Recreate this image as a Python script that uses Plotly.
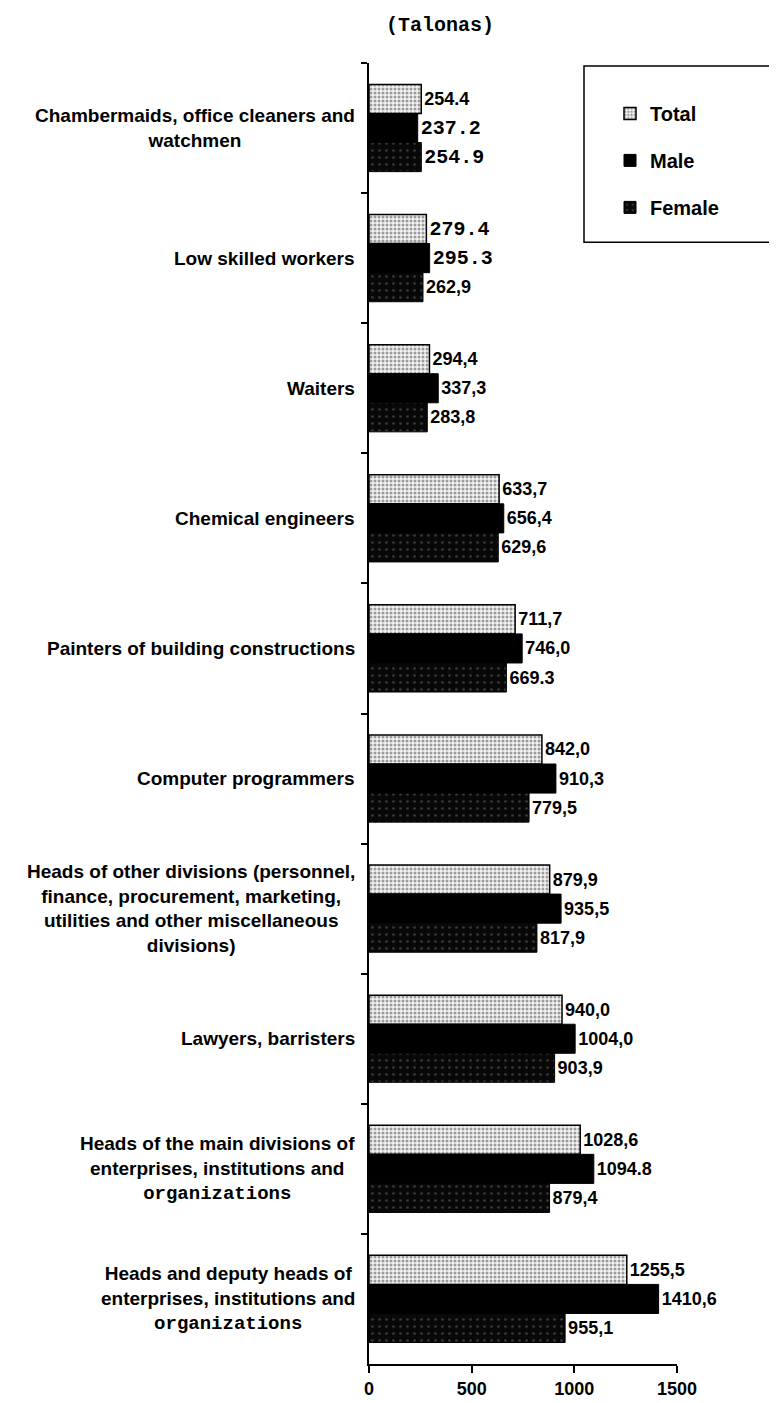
import plotly.graph_objects as go

categories = [
    "Chambermaids, office cleaners and watchmen",
    "Low skilled workers",
    "Waiters",
    "Chemical engineers",
    "Painters of building constructions",
    "Computer programmers",
    "Heads of other divisions",
    "Lawyers, barristers",
    "Heads of the main divisions",
    "Heads and deputy heads",
]
MONO = "<span style='font-family:Liberation Mono'>organizations</span>"
category_labels = [
    "Chambermaids, office cleaners and<br>watchmen",
    "Low skilled workers",
    "Waiters",
    "Chemical engineers",
    "Painters of building constructions",
    "Computer programmers",
    "Heads of other divisions (personnel,<br>finance, procurement, marketing,<br>utilities and other miscellaneous<br>divisions)",
    "Lawyers, barristers",
    "Heads of the main divisions of<br>enterprises, institutions and<br>" + MONO,
    "Heads and deputy heads of<br>enterprises, institutions and<br>" + MONO,
]

total = [254.4, 279.4, 294.4, 633.7, 711.7, 842.0, 879.9, 940.0, 1028.6, 1255.5]
male = [237.2, 295.3, 337.3, 656.4, 746.0, 910.3, 935.5, 1004.0, 1094.8, 1410.6]
female = [254.9, 262.9, 283.8, 629.6, 669.3, 779.5, 817.9, 903.9, 879.4, 955.1]

# decimal separators / fonts as printed in the source
total_sep = [".", ".", ",", ",", ",", ",", ",", ",", ",", ","]
male_sep = [".", ".", ",", ",", ",", ",", ",", ",", ".", ","]
female_sep = [".", ",", ",", ",", ".", ",", ",", ",", ",", ","]
total_mono = [False, True] + [False] * 8
male_mono = [True, True] + [False] * 8
female_mono = [True] + [False] * 9

x_ticks = [0, 500, 1000, 1500]


def labels(vals, seps):
    return [f"{v:.1f}".replace(".", s) for v, s in zip(vals, seps)]


def fams(mono):
    return ["Liberation Mono" if m else "Liberation Sans" for m in mono]


def sizes(mono):
    return [20 if m else 18 for m in mono]


fig = go.Figure()
fig.add_trace(go.Bar(
    name="Total", y=categories, x=total, orientation="h",
    text=labels(total, total_sep), textposition="outside",
    textfont=dict(family=fams(total_mono), size=sizes(total_mono), color="black",
                  weight="bold"),
    marker=dict(color="#d8d8d8", line=dict(color="black", width=1.5),
                pattern=dict(shape=".", fgcolor="#444", bgcolor="#f2f2f2",
                             size=4, solidity=0.45)),
    cliponaxis=False, legendgroup="t",
))
fig.add_trace(go.Bar(
    name="Male", y=categories, x=male, orientation="h",
    text=labels(male, male_sep), textposition="outside",
    textfont=dict(family=fams(male_mono), size=sizes(male_mono), color="black",
                  weight="bold"),
    marker=dict(color="black", line=dict(color="black", width=1)),
    cliponaxis=False, legendgroup="m",
))
fig.add_trace(go.Bar(
    name="Female", y=categories, x=female, orientation="h",
    text=labels(female, female_sep), textposition="outside",
    textfont=dict(family=fams(female_mono), size=sizes(female_mono), color="black",
                  weight="bold"),
    marker=dict(color="black", line=dict(color="black", width=1),
                pattern=dict(shape=".", fgcolor="#6a6a6a", bgcolor="#080808",
                             size=7, solidity=0.12)),
    cliponaxis=False, legendgroup="f",
))

for cat, lab in zip(categories, category_labels):
    fig.add_annotation(
        x=0, xref="paper", y=cat, yref="y", text=lab, showarrow=False,
        xanchor="right", yanchor="middle", align="center", xshift=-12,
        font=dict(family="Liberation Sans", size=19, color="black", weight="bold"),
    )

# legend frame
fig.add_shape(type="rect", xref="paper", yref="paper",
              x0=(576 - 361) / 308, x1=(860 - 361) / 308,
              y0=1 + (55 - 235) / 1306, y1=1 + (55 - 58) / 1306,
              line=dict(color="black", width=1.5))

fig.update_layout(
    width=777, height=1403,
    margin=dict(l=361, r=108, t=55, b=42),
    paper_bgcolor="white", plot_bgcolor="white",
    barmode="group", bargap=0.33, bargroupgap=0,
    title=dict(text="(Talonas)", x=432 / 777, xref="container", xanchor="center",
               y=1 - 16 / 1403, yref="container", yanchor="middle",
               font=dict(family="Liberation Mono", size=20, color="black", weight="bold")),
    legend=dict(x=(602 - 361) / 308, xanchor="left", y=1 + (55 - 86) / 1306,
                yanchor="top", traceorder="grouped", tracegroupgap=18,
                bgcolor="rgba(0,0,0,0)", borderwidth=0, itemwidth=30,
                font=dict(family="Liberation Sans", size=20, color="black", weight="bold")),
    showlegend=True,
    font=dict(family="Liberation Sans", color="black"),
)
fig.update_xaxes(range=[0, 1500], tickvals=x_ticks, ticktext=[str(v) for v in x_ticks],
                 showgrid=False, zeroline=False, showline=True, linecolor="black",
                 linewidth=2, ticks="outside", ticklen=7, tickwidth=2, tickcolor="black",
                 tickfont=dict(family="Liberation Sans", size=18, color="black", weight="bold"))
fig.update_yaxes(autorange="reversed", showticklabels=False, showgrid=False,
                 showline=True, linecolor="black", linewidth=2, ticks="outside",
                 tickson="boundaries", ticklen=6, tickwidth=2, tickcolor="black")

fig.write_html("out.html")
